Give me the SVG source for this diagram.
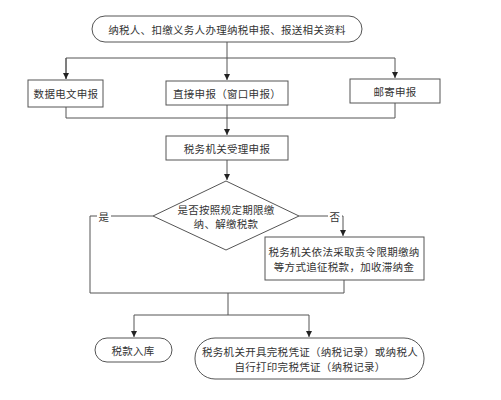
<svg xmlns="http://www.w3.org/2000/svg" width="501" height="400" viewBox="0 0 501 400">
<defs>
<marker id="arr" markerWidth="6" markerHeight="6" refX="6" refY="3" orient="auto" markerUnits="userSpaceOnUse">
<path d="M0,0 L6,3 L0,6 Z" fill="#222"/>
</marker>
<style>
.box{fill:#fff;stroke:#555;stroke-width:1}
.ln{fill:none;stroke:#555;stroke-width:1}
.t{font-family:"Noto Sans CJK SC","Liberation Sans",sans-serif;font-size:10.5px;fill:#333;text-anchor:middle;dominant-baseline:central;letter-spacing:0.3px}
</style>
</defs>
<rect width="501" height="400" fill="#fff"/>
<g id="connectors">
<path class="ln" d="M227,42 V80" marker-end="url(#arr)"/>
<path class="ln" d="M66,79 V58 H395 V78" marker-end="url(#arr)"/>
<path class="ln" d="M66,58 V79" marker-end="url(#arr)"/>
<path class="ln" d="M66,107 V118 H395 V103"/>
<path class="ln" d="M227,105 V135" marker-end="url(#arr)"/>
<path class="ln" d="M227,160 V180" marker-end="url(#arr)"/>
<path class="ln" d="M153,216 H90 V293 H344 V280"/>
<path class="ln" d="M299,216 H343 V236" marker-end="url(#arr)"/>
<path class="ln" d="M228,293 V315 H134 V337" marker-end="url(#arr)"/>
<path class="ln" d="M228,315 H309 V337" marker-end="url(#arr)"/>
<rect x="97" y="210" width="14" height="12" fill="#fff"/>
<text class="t" x="104" y="216">是</text>
<rect x="328" y="210" width="14" height="12" fill="#fff"/>
<text class="t" x="335" y="216">否</text>
</g>
<g id="start">
<rect class="box" x="92" y="16" width="270" height="26" rx="13"/>
<text class="t" x="227" y="29">纳税人、扣缴义务人办理纳税申报、报送相关资料</text>
</g>
<g id="data">
<rect class="box" x="28" y="80" width="75" height="27"/>
<text class="t" x="66" y="93">数据电文申报</text>
</g>
<g id="direct">
<rect class="box" x="166" y="81" width="122" height="24"/>
<text class="t" x="227" y="93">直接申报（窗口申报）</text>
</g>
<g id="mail">
<rect class="box" x="350" y="79" width="90" height="24"/>
<text class="t" x="395" y="91">邮寄申报</text>
</g>
<g id="accept">
<rect class="box" x="166" y="136" width="122" height="24"/>
<text class="t" x="227" y="148">税务机关受理申报</text>
</g>
<g id="decision">
<polygon class="box" points="226,181 299,216 226,250 153,216"/>
<text class="t" x="226" y="209">是否按照规定期限缴</text>
<text class="t" x="226" y="223">纳、解缴税款</text>
</g>
<g id="enforce">
<rect class="box" x="265" y="237" width="159" height="43"/>
<text class="t" x="344" y="251.5">税务机关依法采取责令限期缴纳</text>
<text class="t" x="344" y="266">等方式追征税款，加收滞纳金</text>
</g>
<g id="treasury">
<rect class="box" x="95" y="338" width="77" height="24" rx="12"/>
<text class="t" x="133" y="350">税款入库</text>
</g>
<g id="voucher">
<rect class="box" x="195" y="338" width="229" height="41" rx="20"/>
<text class="t" x="310" y="351.5">税务机关开具完税凭证（纳税记录）或纳税人</text>
<text class="t" x="310" y="366">自行打印完税凭证（纳税记录）</text>
</g>
</svg>
